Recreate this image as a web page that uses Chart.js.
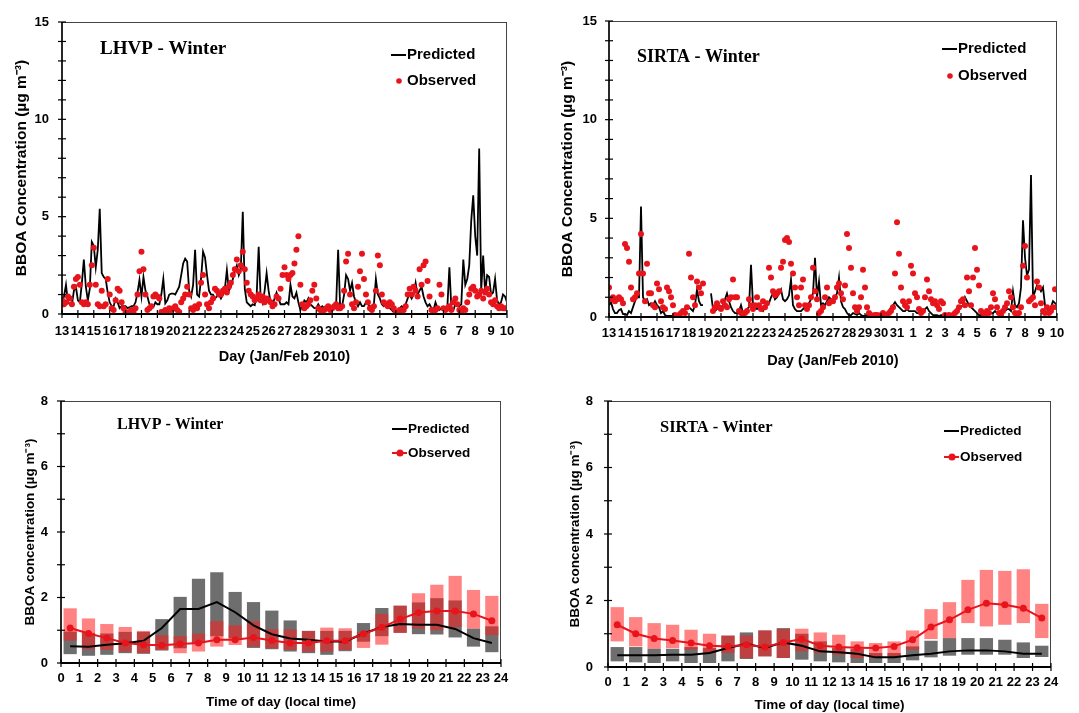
<!DOCTYPE html>
<html>
<head>
<meta charset="utf-8">
<title>BBOA winter time series and diurnal profiles</title>
<script src="https://cdn.jsdelivr.net/npm/chart.js@4.4.1/dist/chart.umd.min.js"></script>
<style>
  body { margin: 0; background: #fff; width: 1079px; height: 713px; position: relative; overflow: hidden; }
  canvas { position: absolute; }
</style>
</head>
<body>
<canvas id="lhvpSeries" width="540" height="372" style="left:0;top:0"></canvas>
<canvas id="sirtaSeries" width="539" height="372" style="left:540px;top:0"></canvas>
<canvas id="lhvpDiurnal" width="540" height="341" style="left:0;top:372px"></canvas>
<canvas id="sirtaDiurnal" width="539" height="341" style="left:540px;top:372px"></canvas>
<script>
// ---- time series: 3-hourly values, 8 per day, 13 Jan -> 10 Feb 2010 ----
const dayLabels = ["13","14","15","16","17","18","19","20","21","22","23","24","25","26","27",
  "28","29","30","31","1","2","3","4","5","6","7","8","9","10"];

const lhvpPredicted = [
  0.6, 0.9, 1.5, 0.6, 0.5, 0.5, 1.2, 1.4,     // 13
  0.7, 0.6, 1.6, 2.8, 1.4, 0.7, 1.3, 3.7,     // 14
  3.5, 2.4, 3.3, 5.4, 2.1, 1.9, 1.8, 1.1,     // 15
  0.6, 0.4, 0.4, 0.8, 0.6, 0.3, 0.4, 0.4,     // 16
  0.4, 0.3, 0.35, 0.4, 0.4, 0.6, 1.1, 1.75,   // 17
  0.9, 1.9, 1.2, 0.9, 0.5, 0.3, 0.35, 0.6,    // 18
  0.5, 0.5, 1.0, 1.8, 0.55, 0.7, 1.0, 1.05,   // 19
  1.05, 1.0, 1.2, 1.4, 2.0, 2.6, 2.85, 2.7,   // 20
  1.2, 0.9, 1.5, 3.3, 1.0, 0.9, 1.8, 3.2,     // 21
  2.9, 2.0, 1.2, 1.0, 1.0, 0.8, 0.9, 1.0,     // 22
  0.8, 1.0, 1.3, 2.25, 1.2, 1.4, 1.8, 2.2,    // 23
  2.5, 2.0, 2.3, 5.25, 1.3, 0.6, 0.5, 0.4,    // 24
  0.5, 0.45, 1.0, 3.45, 0.8, 0.55, 1.2, 2.1,  // 25
  1.2, 0.6, 0.5, 0.8, 1.1, 0.8, 0.5, 0.5,     // 26
  0.5, 0.6, 0.5, 1.5, 0.9, 0.8, 1.1, 0.6,     // 27
  0.2, 0.4, 0.7, 0.6, 0.8, 0.5, 0.4, 0.3,     // 28
  0.3, 0.5, 0.3, 0.4, 0.3, 0.2, 0.3, 0.4,     // 29
  0.3, 0.4, 0.5, 3.3, 0.4, 0.4, 1.0, 2.0,     // 30
  1.8, 1.2, 1.6, 0.9, 0.6, 0.4, 0.6, 0.4,     // 31
  0.4, 0.6, 0.5, 0.4, 0.35, 0.5, 1.8, 1.0,    // 1
  0.8, 0.5, 0.4, 0.5, 0.3, 0.3, 0.2, 0.1,     // 2
  0.1, 0.2, 0.3, 0.4, 0.3, 0.5, 0.8, 1.0,     // 3
  0.8, 1.0, 1.6, 1.0, 1.2, 1.4, 0.9, 0.6,     // 4
  0.4, 0.5, 0.3, 0.2, 0.6, 0.3, 0.2, 0.3,     // 5
  0.3, 0.2, 0.4, 2.4, 0.3, 0.2, 0.5, 0.5,     // 6
  0.4, 0.5, 2.8, 1.5, 1.8, 2.5, 4.8, 6.1,     // 7
  4.0, 3.0, 8.5, 1.2, 3.0, 1.1, 2.0, 1.9,     // 8
  1.0, 1.1, 1.8, 0.7, 0.5, 0.6, 1.0, 0.9,     // 9
  0.6                                         // 10
];

const lhvpObserved = [
  0.7, 0.5, 0.6, 0.9, 0.8, 0.5, 1.4, 1.8,
  1.9, 1.5, 0.6, 0.5, 0.6, 0.5, 1.5, 2.5,
  3.4, 1.5, 0.5, 0.4, 1.2, 0.4, 0.5, 1.8,
  1.0, 0.3, 0.2, 0.7, 1.3, 1.2, 0.6, 0.3,
  0.1, 0.05, 0.1, 0.2, 0.1, 0.3, 1.0, 2.2,
  3.2, 2.3, 1.0, 0.2, 0.3, 0.4, 0.9, 1.0,
  0.9, 0.8, 0.1, 0.1, 0.2, 0.1, 0.3, 0.2,
  0.3, 0.4, 0.2, 0.1, 0.6, 0.8, 1.0, 1.4,
  1.0, 0.3, 0.2, 0.4, 0.3, 0.5, 1.6, 2.0,
  1.0, 0.5, 0.3, 0.6, 0.8, 1.3, 1.2, 1.0,
  1.0, 1.2, 1.3, 1.1, 1.4, 1.6, 2.0, 2.3,
  2.8, 2.2, 2.5, 3.2, 2.3, 1.6, 1.2, 1.0,
  0.9, 0.7, 0.8, 1.0, 0.7, 0.9, 0.6, 0.8,
  0.7, 0.6, 0.4, 0.5, 0.9, 0.8, 1.3, 2.0,
  2.4, 2.0, 1.8, 2.0, 2.1, 2.6, 3.3, 4.0,
  1.5, 0.5, 0.3, 0.4, 0.5, 0.7, 1.2, 1.5,
  0.8, 0.3, 0.2, 0.1, 0.2, 0.3, 0.4, 0.2,
  0.3, 0.4, 0.5, 0.3, 0.3, 0.4, 1.2, 2.7,
  3.1, 1.0, 0.5, 0.3, 0.6, 1.4, 2.2, 3.1,
  1.8, 1.0, 0.6, 0.3, 0.2, 0.4, 1.2, 3.0,
  2.5, 1.0, 0.6, 0.5, 0.4, 0.6, 0.5, 0.3,
  0.05, 0.1, 0.2, 0.1, 0.2, 0.4, 1.0, 1.3,
  1.0, 1.4, 1.2, 0.9, 2.3, 1.5, 2.5, 2.7,
  1.7, 0.9, 0.2, 0.1, 0.2, 0.3, 1.5, 1.0,
  0.3, 0.2, 0.3, 0.4, 0.2, 0.6, 0.8, 0.5,
  0.2, 0.1, 0.3, 0.2, 0.6, 1.0, 1.3, 1.4,
  1.2, 0.9, 1.0, 1.2, 0.8, 1.1, 1.3, 1.0,
  0.6, 0.5, 0.7, 0.4, 0.3, 0.4, 0.3, 0.3,
  0.3
];

const sirtaPredicted = [
  0.6, 0.75, 0.4, 0.2, 0.2, 0.35, 0.4, 0.15,
  0.15, 0.1, 0.3, 0.2, 0.5, 0.8, 1.0, 1.0,
  5.6, 1.0, 0.8, 0.9, 0.6, 0.7, 0.6, 0.8,
  0.6, 0.5, 0.2, 0.3, 0.1, 0.05, 0.05, 0.05,
  0.05, 0.05, 0.1, 0.05, 0.1, 0.2, 0.4, 0.5,
  0.5, 0.4, 0.3, 0.6, 1.4, 0.8, 0.6, 0.6,
  null, null, null, 1.2, 0.4, 0.3, 0.4, 0.5,   // 19: no data overnight
  0.5, 0.6, 0.9, 1.2, 0.8, 0.5, 0.3, 0.2,
  0.2, 0.3, 0.6, 0.2, 0.2, 0.4, 0.5, 2.65,
  0.6, 0.5, 0.4, 0.5, 0.4, 0.3, 0.5, 0.6,
  0.7, 1.0, 1.2, 0.9, 1.0, 1.2, 1.4, 0.9,
  0.8, 0.9, 1.1, 1.9, 0.6, 0.4, 0.3, 0.3,
  0.3, 0.4, 0.5, 0.6, 0.7, 0.9, 1.2, 3.0,
  1.0, 1.8, 0.6, 0.7, 0.6, 0.8, 1.0, 0.9,
  0.8, 1.0, 1.2, 2.0, 0.8, 0.5, 0.4, 0.2,
  0.1, 0.1, 0.2, 0.15, 0.1, 0.2, 0.1, 0.05,
  0.05, 0.1, 0.05, 0.05, 0.05, 0.05, 0.05, 0.05,
  0.05, 0.05, 0.1, 0.2, 0.3, 0.5, 0.6, 0.75,
  0.6, 0.5, 0.4, 0.3, 0.3, 0.4, 0.3, 0.3,
  0.3, 0.3, 0.2, 0.2, 0.2, 0.3, 0.4, 0.5,
  0.3, 0.2, 0.1, 0.1, 0.1, 0.05, 0.1, 0.1,
  0.1, 0.05, 0.1, 0.1, 0.2, 0.3, 0.4, 0.4,
  0.5, 0.6, 1.0, 0.8, 0.6, 0.5, 0.4, 0.3,
  0.2, 0.1, 0.1, 0.2, 0.3, 0.3, 0.2, 0.2,
  0.2, 0.3, 0.2, 0.2, 0.3, 0.3, 0.3, 0.4,
  0.4, 0.3, 1.3, 0.6, 0.5, 0.7, 1.5, 4.9,
  3.0, 2.1, 2.4, 7.2, 1.0, 1.3, 1.6, 1.5,
  1.3, 1.5, 0.6, 0.4, 0.3, 0.5, 0.8, 0.7,
  0.6
];

const sirtaObserved = [
  1.5, 0.9, 1.0, 0.8, 0.9, 1.0, 0.9, 0.7,
  3.7, 3.5, 2.8, 1.5, 0.9, 1.0, 1.2, 2.2,
  4.2, 2.2, 0.8, 2.7, 1.2, 1.2, 0.6, 0.5,
  1.7, 1.4, 0.8, 0.5, 0.4, 1.5, 1.3, 1.0,
  0.6, 0.1, 0.05, 0.1, 0.2, 0.3, 0.2, 0.5,
  3.2, 2.0, 1.0, 0.6, 1.8, 1.5, 1.2, 1.7,
  null, null, null, null, 0.3, 0.5, 0.7, 0.5,
  0.4, 0.8, 0.6, 0.5, 0.9, 1.0, 1.9, 1.0,
  1.0, 0.3, 0.2, 0.1, 0.2, 0.3, 0.9, 0.6,
  0.4, 0.6, 1.0, 0.6, 0.4, 0.8, 0.5, 0.7,
  2.5, 2.0, 1.3, 1.1, 1.2, 1.3, 2.5, 2.8,
  3.9, 4.0, 3.8, 2.7, 2.2, 1.5, 1.0, 0.6,
  1.5, 1.9, 0.6, 0.4, 0.6, 1.0, 2.5, 1.3,
  0.9, 0.2, 0.3, 0.5, 1.0, 1.5, 0.7, 0.8,
  0.8, 1.0, 1.5, 1.7, 1.2, 0.9, 1.6, 4.2,
  3.5, 2.5, 1.2, 0.5, 0.3, 0.5, 1.0, 2.4,
  1.5, 0.5, 0.2, 0.1, 0.05, 0.1, 0.1, 0.05,
  0.1, 0.2, 0.1, 0.1, 0.2, 0.3, 0.5, 2.2,
  4.8, 3.2, 1.5, 0.8, 0.6, 0.5, 0.8, 2.6,
  2.2, 1.2, 1.0, 0.4, 0.2, 0.3, 1.0, 1.9,
  1.3, 0.9, 0.7, 0.8, 0.6, 0.4, 0.8, 0.7,
  0.1, 0.05, 0.1, 0.05, 0.1, 0.2, 0.3, 0.5,
  0.8, 0.9, 0.6, 2.0, 1.3, 0.6, 2.0, 3.5,
  2.4, 1.6, 0.3, 0.2, 0.1, 0.3, 0.2, 0.5,
  1.2, 0.9, 0.5, 0.2, 0.1, 0.3, 0.5, 0.7,
  1.3, 1.0, 0.5, 0.2, 0.05, 0.2, 0.5, 2.6,
  3.6, 2.0, 0.8, 0.9, 1.0, 0.6, 1.8, 1.5,
  0.7, 0.3, 0.2, 0.5, 0.2, 0.3, 0.5, 1.4,
  0.5
];

// ---- diurnal profiles: hourly means with low/high range boxes ----
const hours = [0,1,2,3,4,5,6,7,8,9,10,11,12,13,14,15,16,17,18,19,20,21,22,23];

const lhvpPredMean = [0.51,0.5,0.56,0.6,0.68,1.07,1.65,1.65,1.86,1.55,1.15,0.88,0.75,0.71,0.66,0.66,0.9,1.1,1.19,1.17,1.17,1.04,0.76,0.61];
const lhvpPredLow  = [0.27,0.22,0.25,0.3,0.28,0.38,0.45,0.6,0.82,0.75,0.46,0.42,0.35,0.3,0.25,0.36,0.65,0.82,0.92,0.88,0.87,0.78,0.5,0.33];
const lhvpPredHigh = [0.96,0.92,0.9,0.95,0.95,1.34,2.02,2.57,2.77,2.17,1.86,1.6,1.3,0.98,0.98,0.98,1.22,1.68,1.75,1.85,1.98,1.91,1.05,1.12];
const lhvpObsMean  = [1.07,0.9,0.76,0.61,0.56,0.54,0.58,0.61,0.71,0.71,0.78,0.69,0.61,0.61,0.68,0.68,0.89,1.09,1.34,1.54,1.59,1.59,1.5,1.29];
const lhvpObsLow   = [0.68,0.42,0.4,0.35,0.3,0.4,0.3,0.35,0.5,0.55,0.5,0.45,0.4,0.35,0.35,0.4,0.46,0.56,0.92,1.05,1.0,1.1,1.05,0.85];
const lhvpObsHigh  = [1.67,1.36,1.19,1.1,0.98,0.85,0.82,0.9,1.28,1.15,1.27,1.03,1.02,0.98,1.08,1.06,0.95,1.5,1.75,2.13,2.39,2.66,2.23,2.05];

const sirtaPredMean = [0.35,0.35,0.35,0.37,0.37,0.42,0.57,0.7,0.57,0.74,0.64,0.47,0.44,0.4,0.29,0.29,0.35,0.4,0.47,0.5,0.5,0.47,0.4,0.4];
const sirtaPredLow  = [0.17,0.14,0.12,0.17,0.12,0.12,0.17,0.24,0.32,0.27,0.22,0.17,0.14,0.12,0.12,0.12,0.2,0.29,0.34,0.37,0.37,0.37,0.27,0.3];
const sirtaPredHigh = [0.6,0.6,0.55,0.55,0.6,0.57,0.94,1.04,1.1,1.17,1.0,0.77,0.57,0.54,0.42,0.42,0.62,0.79,0.87,0.87,0.87,0.82,0.74,0.64];
const sirtaObsMean  = [1.27,1.0,0.86,0.8,0.72,0.64,0.62,0.67,0.6,0.74,0.84,0.64,0.6,0.58,0.57,0.62,0.82,1.2,1.42,1.72,1.92,1.87,1.77,1.47];
const sirtaObsLow   = [0.77,0.62,0.55,0.57,0.52,0.42,0.42,0.27,0.32,0.27,0.47,0.42,0.37,0.27,0.27,0.32,0.52,0.84,0.87,1.32,1.22,1.27,1.32,0.87];
const sirtaObsHigh  = [1.8,1.5,1.32,1.27,1.12,1.0,0.95,0.95,1.1,1.14,1.15,1.04,0.97,0.77,0.72,0.77,1.1,1.74,1.95,2.62,2.92,2.89,2.94,1.9];

const RED = "#e8141c";
const STEPS_PER_DAY = 8;
const SANS = '"Liberation Sans", Arial, sans-serif';
const SERIF = '"Liberation Serif", "Times New Roman", serif';

Chart.defaults.font.family = SANS;
Chart.defaults.font.weight = "bold";
Chart.defaults.color = "#000";

function line(ctx, x1, y1, x2, y2) {
  ctx.beginPath();
  ctx.moveTo(x1, y1);
  ctx.lineTo(x2, y2);
  ctx.stroke();
}

// frame, crossing tick marks, panel title and legend
const panelDecor = {
  id: "panelDecor",
  afterDraw(chart, args, o) {
    const { ctx, chartArea: a } = chart;
    const x = chart.scales.x, y = chart.scales.y;
    ctx.save();
    ctx.strokeStyle = "#444";
    ctx.lineWidth = 1;
    ctx.strokeRect(a.left, a.top + 0.5, a.right - a.left - 0.5, a.bottom - a.top);
    ctx.strokeStyle = "#000";
    ctx.lineWidth = 2;
    line(ctx, a.left, a.bottom, a.right, a.bottom);
    ctx.lineWidth = 1.5;
    line(ctx, a.left, a.top, a.left, a.bottom);
    ctx.lineWidth = 1.2;
    x.ticks.forEach((t, i) => {
      const px = x.getPixelForTick(i);
      line(ctx, px, a.bottom - 4, px, a.bottom + 4);
    });
    y.ticks.forEach((t, i) => {
      const py = y.getPixelForTick(i);
      line(ctx, a.left - 4, py, a.left + 4, py);
    });

    ctx.fillStyle = "#000";
    ctx.textBaseline = "middle";
    ctx.font = `bold ${o.titleSize}px ${SERIF}`;
    ctx.fillText(o.title, o.titleX, o.titleY);

    ctx.font = `bold ${o.legendSize}px ${SANS}`;
    ctx.lineWidth = 2;
    ctx.strokeStyle = "#000";
    line(ctx, o.legendX - 16, o.rows[0], o.legendX - 1, o.rows[0]);
    ctx.fillText("Predicted", o.legendX, o.rows[0]);
    ctx.fillStyle = RED;
    if (o.obsLine) {
      ctx.strokeStyle = RED;
      line(ctx, o.legendX - 16, o.rows[1], o.legendX - 1, o.rows[1]);
    }
    ctx.beginPath();
    ctx.arc(o.legendX - 8, o.rows[1], o.obsLine ? 3.5 : 2.8, 0, Math.PI * 2);
    ctx.fill();
    ctx.fillStyle = "#000";
    ctx.fillText("Observed", o.legendX, o.rows[1]);
    ctx.restore();
  }
};

function seriesPoints(values) {
  return values.map((v, i) => ({ x: i / STEPS_PER_DAY, y: v }));
}

function makeSeriesChart(id, predicted, observed, lay) {
  return new Chart(document.getElementById(id), {
    type: "line",
    data: {
      datasets: [
        {
          label: "Observed",
          type: "scatter",
          data: seriesPoints(observed),
          showLine: false,
          pointRadius: 3,
          pointBackgroundColor: RED,
          pointBorderWidth: 0,
          order: 1
        },
        {
          label: "Predicted",
          data: seriesPoints(predicted),
          borderColor: "#000",
          borderWidth: 1.8,
          pointRadius: 0,
          tension: 0,
          spanGaps: false,
          order: 2
        }
      ]
    },
    options: {
      responsive: false,
      animation: false,
      events: [],
      layout: { padding: lay.padding },
      plugins: { legend: { display: false }, tooltip: { enabled: false }, panelDecor: lay.decor },
      scales: {
        x: {
          type: "linear",
          min: 0,
          max: 28,
          grid: { display: false, drawTicks: false },
          border: { display: false },
          afterFit: (s) => { s.height = lay.xHeight; },
          ticks: {
            stepSize: 1,
            autoSkip: false,
            maxRotation: 0,
            padding: lay.xTickPad,
            font: { size: 13 },
            callback: (v) => dayLabels[v]
          },
          title: {
            display: true,
            text: "Day (Jan/Feb 2010)",
            font: { size: 14.5 },
            padding: { top: 0, bottom: lay.xTitlePad }
          }
        },
        y: {
          min: 0,
          max: 15,
          grid: { display: false, drawTicks: false },
          border: { display: false },
          afterFit: (s) => { s.width = lay.yWidth; },
          ticks: {
            stepSize: 1,
            padding: lay.yTickPad,
            font: { size: 13 },
            callback: (v) => (v % 5 === 0 ? v : "")
          },
          title: {
            display: true,
            text: "BBOA Concentration (µg m⁻³)",
            font: { size: 15.5 },
            padding: { top: 0, bottom: 0 }
          }
        }
      }
    },
    plugins: [panelDecor]
  });
}

function rangeBoxes(low, high) {
  return hours.map((h, i) => ({ x: h + 0.5, y: [low[i], high[i]] }));
}

function meanPoints(values) {
  return hours.map((h, i) => ({ x: h + 0.5, y: values[i] }));
}

function makeDiurnalChart(id, d, lay) {
  return new Chart(document.getElementById(id), {
    type: "bar",
    data: {
      datasets: [
        {
          label: "Predicted range",
          data: rangeBoxes(d.predLow, d.predHigh),
          backgroundColor: "rgb(110,110,110)",
          grouped: false,
          categoryPercentage: 1,
          barPercentage: 0.72,
          order: 4
        },
        {
          label: "Observed range",
          data: rangeBoxes(d.obsLow, d.obsHigh),
          backgroundColor: "rgba(255,30,30,0.55)",
          grouped: false,
          categoryPercentage: 1,
          barPercentage: 0.72,
          order: 3
        },
        {
          label: "Predicted",
          type: "line",
          data: meanPoints(d.predMean),
          borderColor: "#000",
          borderWidth: 2,
          pointRadius: 0,
          order: 2
        },
        {
          label: "Observed",
          type: "line",
          data: meanPoints(d.obsMean),
          borderColor: RED,
          borderWidth: 2,
          pointRadius: 3.5,
          pointBackgroundColor: RED,
          pointBorderWidth: 0,
          order: 1
        }
      ]
    },
    options: {
      responsive: false,
      animation: false,
      events: [],
      layout: { padding: lay.padding },
      plugins: { legend: { display: false }, tooltip: { enabled: false }, panelDecor: lay.decor },
      scales: {
        x: {
          type: "linear",
          min: 0,
          max: 24,
          offset: false,
          grid: { display: false, drawTicks: false, offset: false },
          border: { display: false },
          afterFit: (s) => { s.height = lay.xHeight; },
          ticks: { stepSize: 1, autoSkip: false, maxRotation: 0, padding: lay.xTickPad, font: { size: 13 } },
          title: {
            display: true,
            text: "Time of day (local time)",
            font: { size: 13.5 },
            padding: { top: 0, bottom: lay.xTitlePad }
          }
        },
        y: {
          min: 0,
          max: 8,
          beginAtZero: true,
          grid: { display: false, drawTicks: false },
          border: { display: false },
          afterFit: (s) => { s.width = lay.yWidth; },
          ticks: {
            stepSize: 1,
            padding: lay.yTickPad,
            font: { size: 13 },
            callback: (v) => (v % 2 === 0 ? v : "")
          },
          title: {
            display: true,
            text: "BBOA concentration (µg m⁻³)",
            font: { size: 13.5 },
            padding: { top: 0, bottom: 0 }
          }
        }
      }
    },
    plugins: [panelDecor]
  });
}

makeSeriesChart("lhvpSeries", lhvpPredicted, lhvpObserved, {
  padding: { left: 12, right: 33, top: 22, bottom: 0 },
  yWidth: 50, xHeight: 58, yTickPad: 13, xTickPad: 10, xTitlePad: 6,
  decor: { title: "LHVP - Winter", titleX: 100, titleY: 49, titleSize: 19,
           legendX: 407, rows: [55, 81], legendSize: 15, obsLine: false }
});

makeSeriesChart("sirtaSeries", sirtaPredicted, sirtaObserved, {
  padding: { left: 18, right: 22, top: 21, bottom: 0 },
  yWidth: 51, xHeight: 55, yTickPad: 12, xTickPad: 9, xTitlePad: 2,
  decor: { title: "SIRTA - Winter", titleX: 97, titleY: 57, titleSize: 18,
           legendX: 418, rows: [49, 76], legendSize: 15, obsLine: false }
});

makeDiurnalChart("lhvpDiurnal", {
  predMean: lhvpPredMean, predLow: lhvpPredLow, predHigh: lhvpPredHigh,
  obsMean: lhvpObsMean, obsLow: lhvpObsLow, obsHigh: lhvpObsHigh
}, {
  padding: { left: 22, right: 39, top: 29, bottom: 0 },
  yWidth: 39, xHeight: 50, yTickPad: 13, xTickPad: 8, xTitlePad: 3,
  decor: { title: "LHVP - Winter", titleX: 117, titleY: 53, titleSize: 16,
           legendX: 408, rows: [57, 81], legendSize: 13.5, obsLine: true }
});

makeDiurnalChart("sirtaDiurnal", {
  predMean: sirtaPredMean, predLow: sirtaPredLow, predHigh: sirtaPredHigh,
  obsMean: sirtaObsMean, obsLow: sirtaObsLow, obsHigh: sirtaObsHigh
}, {
  padding: { left: 27, right: 28, top: 29, bottom: 0 },
  yWidth: 41, xHeight: 46, yTickPad: 15, xTickPad: 8, xTitlePad: 0,
  decor: { title: "SIRTA - Winter", titleX: 120, titleY: 56, titleSize: 16.5,
           legendX: 420, rows: [59, 85], legendSize: 13.5, obsLine: true }
});
</script>
</body>
</html>
